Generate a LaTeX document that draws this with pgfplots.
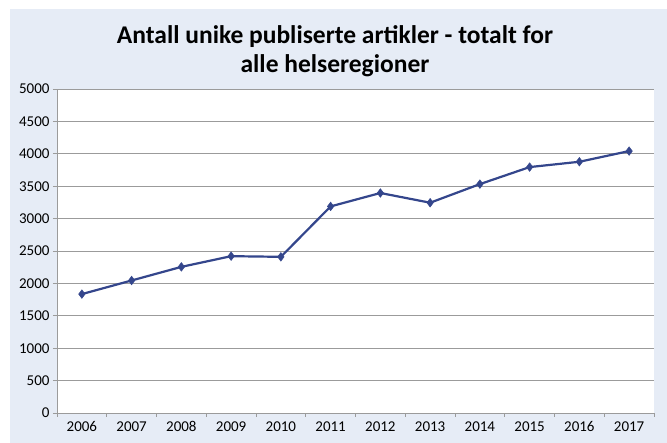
\documentclass[border=0pt]{standalone}
\usepackage{fontspec}
\setmainfont{Carlito}
\usepackage{pgfplots}
\pgfplotsset{compat=1.18}
\definecolor{bgc}{RGB}{230,236,246}
\definecolor{gridc}{RGB}{155,155,155}
\definecolor{linec}{RGB}{52,70,140}
\begin{document}
\begin{tikzpicture}[x=1bp,y=1bp]
\path (-57,-30) rectangle (610,413);
\fill[bgc] (-47,-30) rectangle (610,404);
\node[anchor=base,font=\bfseries\fontsize{25.5bp}{30bp}\selectfont] at (278,369.7) {Antall unike publiserte artikler - totalt for};
\node[anchor=base,font=\bfseries\fontsize{25.5bp}{30bp}\selectfont] at (278,340.5) {alle helseregioner};
\begin{axis}[
  at={(0,0)}, anchor=south west,
  scale only axis, width=597bp, height=324bp,
  axis background/.style={fill=white},
  xmin=-0.5, xmax=11.5, ymin=0, ymax=5000,
  axis x line*=bottom, axis y line*=left,
  axis line style={gridc, line width=0.9pt, -},
  xtick={0,...,11},
  xticklabels={2006,2007,2008,2009,2010,2011,2012,2013,2014,2015,2016,2017},
  minor xtick={-0.5,0.5,...,11.5},
  major x tick style={draw=none},
  minor x tick style={gridc, line width=0.9pt},
  minor tick length=4bp,
  ytick={0,500,...,5000},
  y tick style={gridc, line width=0.9pt},
  major tick length=4bp,
  tick align=outside,
  ymajorgrids,
  grid style={gridc, line width=0.9pt},
  tick label style={font=\fontsize{15bp}{17bp}\selectfont, text=black},
  /pgf/number format/assume math mode=true,
  /pgf/number format/1000 sep={},
  yticklabel style={xshift=0bp},
  xticklabel style={yshift=-1bp},
  clip=false,
]
\addplot[linec, line width=2.2bp, mark=diamond*, mark size=4.3bp, mark options={fill=linec, line width=0.5bp}]
  coordinates {(0,1835) (1,2045) (2,2255) (3,2420) (4,2410) (5,3188) (6,3395) (7,3245) (8,3532) (9,3795) (10,3877) (11,4042)};
\end{axis}
\end{tikzpicture}
\end{document}
